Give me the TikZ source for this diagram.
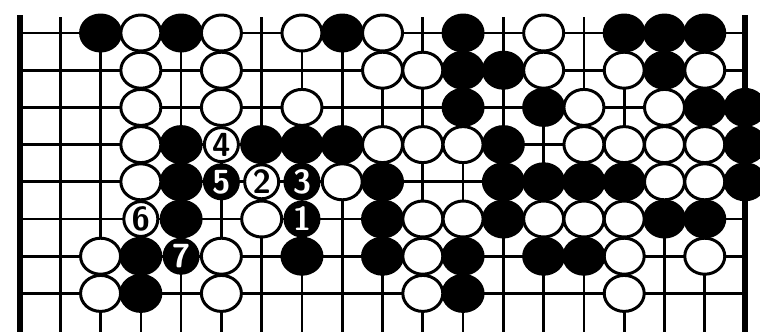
\documentclass[tikz,border=0pt]{standalone}
\usetikzlibrary{shapes.geometric}

\begin{document}
\begin{tikzpicture}[
    x=0.8056cm, y=-0.744cm,
    gridline/.style={black, line width=1.5pt},
    edgeline/.style={black, line width=3pt},
    stone/.style={ellipse, draw=black, line width=1.7pt,
                  minimum width=0.80cm, minimum height=0.72cm, inner sep=0pt,
                  font=\sffamily\bfseries\fontsize{19}{19}\selectfont},
    bstone/.style={stone, fill=black, text=white},
    wstone/.style={stone, fill=white, text=black},
    numstone/.style={minimum width=0.68cm, minimum height=0.68cm}
]

\useasboundingbox (-0.4965,-0.887) rectangle (18.371,8.011);
\clip (-0.4965,-0.887) rectangle (18.371,8.011);

% board lines
\foreach \r in {0,...,7}
    \draw[gridline] (0,\r) -- (18,\r);
\foreach \c in {1,...,17}
    \draw[gridline] (\c,-0.43) -- (\c,8.1);
\draw[edgeline] (0,-0.48) -- (0,8.1);
\draw[edgeline] (18,-0.48) -- (18,8.1);

% black stones
\foreach \c/\r in {
    2/0, 4/0, 8/0, 11/0, 15/0, 16/0, 17/0,
    11/1, 12/1, 16/1,
    11/2, 13/2, 17/2, 18/2,
    4/3, 6/3, 7/3, 8/3, 12/3, 18/3,
    4/4, 9/4, 12/4, 13/4, 14/4, 15/4, 18/4,
    4/5, 9/5, 12/5, 16/5, 17/5,
    3/6, 7/6, 9/6, 11/6, 13/6, 14/6,
    3/7, 11/7
}{
    \node[bstone] (b\c-\r) at (\c,\r) {};
}

% white stones
\foreach \c/\r in {
    3/0, 5/0, 7/0, 9/0, 13/0,
    3/1, 5/1, 9/1, 10/1, 13/1, 15/1, 17/1,
    3/2, 5/2, 7/2, 14/2, 16/2,
    3/3, 9/3, 10/3, 11/3, 14/3, 15/3, 16/3, 17/3,
    3/4, 8/4, 16/4, 17/4,
    6/5, 10/5, 11/5, 13/5, 14/5, 15/5,
    2/6, 5/6, 10/6, 15/6, 17/6,
    2/7, 5/7, 10/7, 15/7
}{
    \node[wstone] (w\c-\r) at (\c,\r) {};
}

% numbered moves
\foreach \c/\r/\n in {7/5/1, 7/4/3, 5/4/5, 4/6/7}
    \node[bstone, numstone] (m\n) at (\c,\r) {\n};
\foreach \c/\r/\n in {6/4/2, 5/3/4, 3/5/6}
    \node[wstone, numstone] (m\n) at (\c,\r) {\n};

\end{tikzpicture}
\end{document}
